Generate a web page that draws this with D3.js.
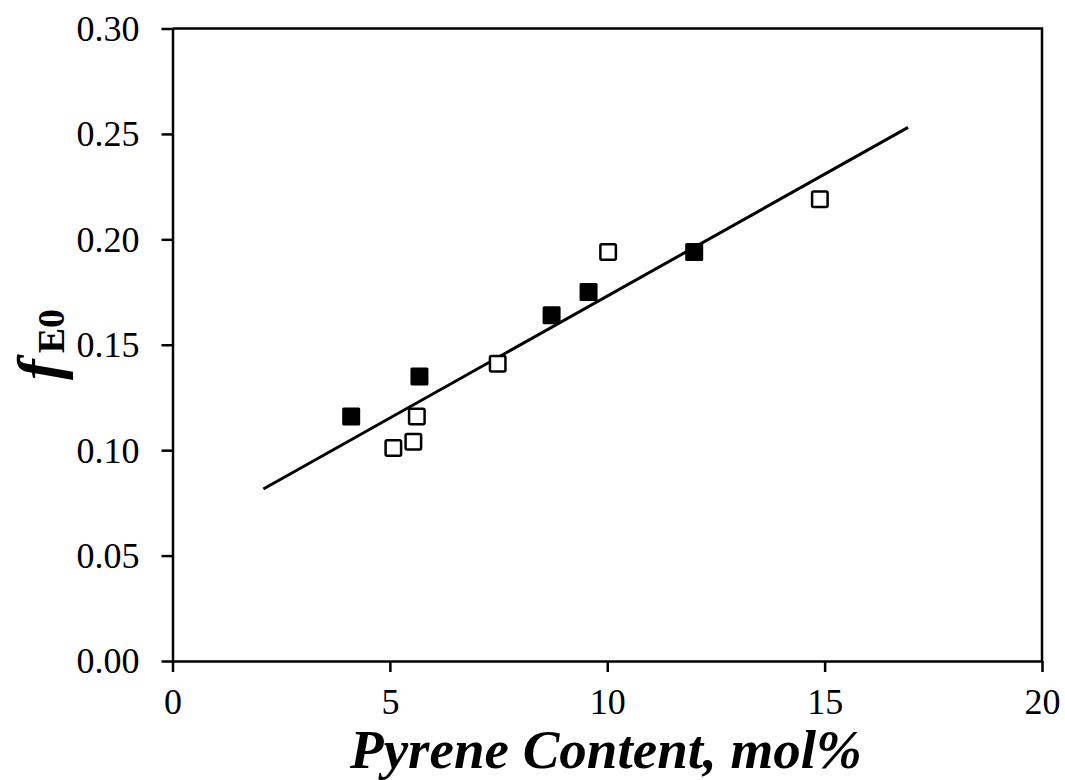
<!DOCTYPE html>
<html>
<head>
<meta charset="utf-8">
<script src="https://cdn.jsdelivr.net/npm/d3@7"></script>
<style>
  body { margin: 0; background: #fff; }
  svg { display: block; }
</style>
</head>
<body>
<div id="chart"></div>
<script>
// values
var filledX = [4.11, 5.68, 8.72, 9.57, 12.0];
var filledY = [0.116, 0.135, 0.164, 0.175, 0.194];
var openX = [5.08, 5.54, 5.62, 7.48, 10.02, 14.89];
var openY = [0.101, 0.104, 0.116, 0.141, 0.194, 0.219];
// fitted trend line end points
var fitX = [2.09, 16.92];
var fitY = [0.0816, 0.2531];
var xTicks = [0, 5, 10, 15, 20];
var yTicks = [0, 0.05, 0.10, 0.15, 0.20, 0.25, 0.30];

window.onload = function(){
  var w = 1065, h = 780;
  var left = 172.5, right = 1042, top = 28.5, bottom = 661;

  var svg = d3.select("#chart").append("svg")
    .attr("width", w)
    .attr("height", h);

  var x = d3.scaleLinear().domain([0, 20]).range([left, right]);
  var y = d3.scaleLinear().domain([0, 0.30]).range([bottom, top]);

  var font = "'Liberation Serif', 'Times New Roman', serif";

  // frame (top and right edges, no ticks)
  svg.append("path")
    .attr("d", "M" + left + "," + top + "H" + right + "V" + bottom)
    .attr("fill", "none")
    .attr("stroke", "#000")
    .attr("stroke-width", 2.5);

  var xAxis = svg.append("g")
    .attr("transform", "translate(0," + bottom + ")")
    .call(d3.axisBottom(x).tickValues(xTicks).tickSizeInner(11).tickSizeOuter(0).tickPadding(22)
      .tickFormat(d3.format("d")));

  var yAxis = svg.append("g")
    .attr("transform", "translate(" + left + ",0)")
    .call(d3.axisLeft(y).tickValues(yTicks).tickSizeInner(11).tickSizeOuter(0).tickPadding(22)
      .tickFormat(d3.format(".2f")));

  [xAxis, yAxis].forEach(function(g){
    g.selectAll("path.domain").attr("stroke", "#000").attr("stroke-width", 2.5);
    g.selectAll(".tick line").attr("stroke", "#000").attr("stroke-width", 2.5);
    g.selectAll(".tick text")
      .attr("fill", "#000")
      .style("font-family", font)
      .style("font-size", "36px");
  });
  xAxis.selectAll(".tick text").attr("dy", "0.71em").attr("y", 27);
  yAxis.selectAll(".tick text").attr("dy", "0.33em");

  // trend line
  var line = d3.line()
    .x(function(d){ return x(d[0]); })
    .y(function(d){ return y(d[1]); });
  svg.append("path")
    .datum(fitX.map(function(v, i){ return [v, fitY[i]]; }))
    .attr("d", line)
    .attr("fill", "none")
    .attr("stroke", "#000")
    .attr("stroke-width", 3);

  // markers
  var s = 18;
  var filled = filledX.map(function(v, i){ return [v, filledY[i]]; });
  var open = openX.map(function(v, i){ return [v, openY[i]]; });

  svg.selectAll("rect.filled").data(filled).enter().append("rect")
    .attr("class", "filled")
    .attr("x", function(d){ return x(d[0]) - s / 2; })
    .attr("y", function(d){ return y(d[1]) - s / 2; })
    .attr("width", s)
    .attr("height", s)
    .attr("rx", 1.5)
    .attr("fill", "#000");

  svg.selectAll("rect.open").data(open).enter().append("rect")
    .attr("class", "open")
    .attr("x", function(d){ return x(d[0]) - (s - 2.5) / 2; })
    .attr("y", function(d){ return y(d[1]) - (s - 2.5) / 2; })
    .attr("width", s - 2.5)
    .attr("height", s - 2.5)
    .attr("rx", 1.5)
    .attr("fill", "#fff")
    .attr("stroke", "#000")
    .attr("stroke-width", 2.5);

  // axis titles
  svg.append("text")
    .attr("x", 606)
    .attr("y", 768)
    .attr("text-anchor", "middle")
    .style("font-family", font)
    .style("font-size", "55px")
    .style("font-weight", "bold")
    .style("font-style", "italic")
    .text("Pyrene Content, mol%");

  var yl = svg.append("text")
    .attr("transform", "translate(60,380) rotate(-90)")
    .style("font-family", font)
    .style("font-weight", "bold")
    .attr("fill", "#000");
  yl.append("tspan")
    .style("font-size", "62px")
    .style("font-style", "italic")
    .text("f");
  yl.append("tspan")
    .attr("dx", 6)
    .attr("dy", 4)
    .style("font-size", "38px")
    .text("E0");
}
</script>
</body>
</html>
